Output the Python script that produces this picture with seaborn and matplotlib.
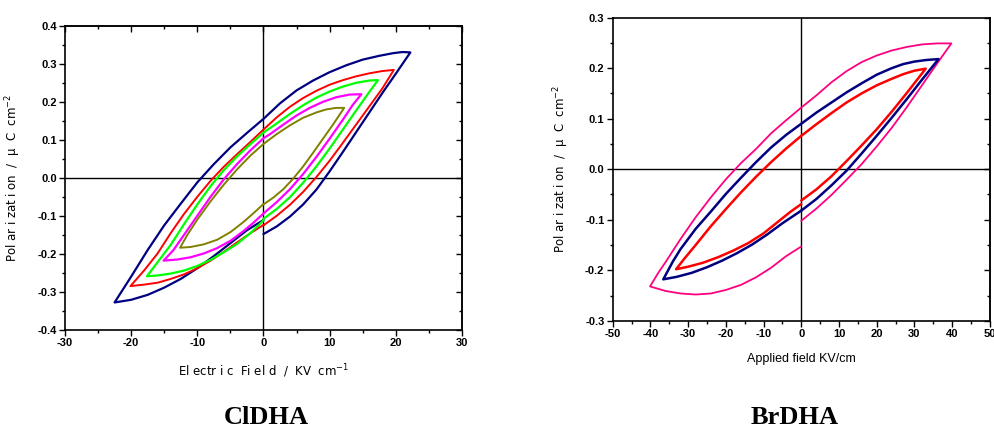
import matplotlib
matplotlib.use("Agg")
import matplotlib.pyplot as plt
from matplotlib.ticker import MultipleLocator
import seaborn as sns

# ---------------- data: ClDHA (left) ----------------
# each loop: start at E=0 -> rising branch -> +tip -> upper branch -> -tip -> lower branch -> E=0
cl_blue_E = [0, 2, 4, 6, 8, 10, 12, 14, 16, 18, 20, 22.2,
             21.0, 19.6, 17.5, 15.0, 12.5, 10.0, 7.5, 5.0, 2.5, 0, -2.5, -5.0, -7.5, -10.0,
             -12.5, -15.0, -17.5, -20.0, -22.5,
             -20.0, -17.5, -15.0, -12.5, -10.0, -7.5, -5.0, -2.5, 0]
cl_blue_P = [-0.148, -0.128, -0.102, -0.070, -0.031, 0.017, 0.068, 0.120, 0.172, 0.224, 0.274, 0.330,
             0.331, 0.328, 0.321, 0.311, 0.296, 0.278, 0.256, 0.230, 0.196, 0.155, 0.118, 0.080,
             0.036, -0.012, -0.068, -0.125, -0.190, -0.260, -0.328,
             -0.321, -0.308, -0.289, -0.266, -0.238, -0.206, -0.172, -0.138, -0.111]
cl_red_E = [0, 2, 4, 6, 8, 10, 12, 14, 16, 18, 19.7,
            18, 16, 14, 12, 10, 8, 6, 4, 2, 0, -2, -4, -6, -8, -10, -12, -14, -16, -18, -20.1,
            -18, -16, -14, -12, -10, -8, -6, -4, -2, 0]
cl_red_P = [-0.125, -0.100, -0.071, -0.037, 0.002, 0.045, 0.092, 0.140, 0.188, 0.236, 0.284,
            0.281, 0.275, 0.267, 0.257, 0.245, 0.229, 0.210, 0.187, 0.159, 0.127, 0.094, 0.062,
            0.029, -0.008, -0.050, -0.095, -0.145, -0.199, -0.243, -0.285,
            -0.281, -0.276, -0.266, -0.254, -0.238, -0.218, -0.195, -0.170, -0.146, -0.124]
cl_green_E = [0, 2, 4, 6, 8, 10, 12, 14, 16, 17.3,
              16, 14, 12, 10, 8, 6, 4, 2, 0, -2, -4, -6, -8, -10, -12, -14, -16, -17.6,
              -16, -14, -12, -10, -8, -6, -4, -2, 0]
cl_green_P = [-0.108, -0.082, -0.051, -0.013, 0.030, 0.077, 0.127, 0.177, 0.226, 0.257,
              0.256, 0.250, 0.240, 0.227, 0.211, 0.191, 0.168, 0.143, 0.119, 0.088, 0.056,
              0.020, -0.022, -0.070, -0.122, -0.176, -0.222, -0.259,
              -0.257, -0.252, -0.244, -0.232, -0.216, -0.196, -0.174, -0.146, -0.112]
cl_magenta_E = [0, 2, 4, 6, 8, 10, 12, 13.5, 14.8,
                13, 11, 9, 7, 5, 3, 1, 0, -2, -4, -6, -8, -10, -12, -13.6, -15.1,
                -13, -11, -9, -7, -5, -3, -1.5, 0]
cl_magenta_P = [-0.094, -0.064, -0.030, 0.010, 0.055, 0.103, 0.153, 0.192, 0.220,
                0.219, 0.212, 0.200, 0.184, 0.164, 0.140, 0.115, 0.104, 0.072, 0.036, -0.004,
                -0.050, -0.100, -0.150, -0.190, -0.218,
                -0.215, -0.209, -0.199, -0.185, -0.166, -0.140, -0.118, -0.094]
cl_olive_E = [0, 1.5, 3, 4.5, 6, 7.5, 9, 10.5, 12.2,
              11, 9.5, 8, 6, 4, 2, 0, -2, -4, -6, -8, -10, -11.5, -12.6,
              -11, -9, -7, -5, -3, -1.5, 0]
cl_olive_P = [-0.070, -0.052, -0.030, -0.002, 0.030, 0.066, 0.103, 0.140, 0.184,
              0.184, 0.180, 0.172, 0.158, 0.138, 0.115, 0.089, 0.058, 0.022, -0.018, -0.062,
              -0.110, -0.150, -0.184,
              -0.182, -0.175, -0.163, -0.143, -0.116, -0.093, -0.069]

# ---------------- data: BrDHA (right) ----------------
br_pink_E = [0, 4, 8, 12, 16, 20, 24, 28, 32, 36, 39.8,
             36, 32, 28, 24, 20, 16, 12, 8, 4, 0, -4, -8, -12, -16, -20, -24, -28, -32, -36,
             -38, -40.1,
             -36, -32, -28, -24, -20, -16, -12, -8, -4, 0]
br_pink_P = [-0.102, -0.078, -0.051, -0.021, 0.010, 0.045, 0.082, 0.123, 0.166, 0.209, 0.249,
             0.249, 0.247, 0.242, 0.235, 0.225, 0.212, 0.194, 0.172, 0.146, 0.122, 0.097,
             0.071, 0.040, 0.012, -0.020, -0.056, -0.095, -0.138, -0.184, -0.206, -0.232,
             -0.241, -0.246, -0.248, -0.246, -0.239, -0.229, -0.214, -0.195, -0.172, -0.153]
br_navy_E = [0, 4, 8, 12, 16, 20, 24, 28, 32, 36.4,
             33, 30, 27, 24, 20, 16, 12, 8, 4, 0, -4, -8, -12, -16, -20, -24, -28, -32, -34,
             -36.6,
             -33, -29, -25, -21, -17, -13, -9, -5, 0]
br_navy_P = [-0.082, -0.059, -0.032, -0.003, 0.031, 0.066, 0.102, 0.139, 0.177, 0.218,
             0.216, 0.213, 0.208, 0.200, 0.187, 0.170, 0.152, 0.132, 0.112, 0.090, 0.068,
             0.043, 0.014, -0.017, -0.049, -0.084, -0.118, -0.158, -0.182, -0.218,
             -0.213, -0.205, -0.194, -0.181, -0.166, -0.149, -0.129, -0.107, -0.082]
br_red_E = [0, 4, 8, 12, 16, 20, 24, 28, 33,
            30, 27, 24, 20, 16, 12, 8, 4, 0, -4, -8, -12, -16, -20, -24, -28, -31, -33.2,
            -30, -26, -22, -18, -14, -10, -6, -3, 0]
br_red_P = [-0.062, -0.040, -0.014, 0.016, 0.047, 0.079, 0.114, 0.151, 0.199,
            0.195, 0.188, 0.179, 0.166, 0.150, 0.132, 0.111, 0.089, 0.066, 0.041, 0.014,
            -0.015, -0.046, -0.079, -0.113, -0.150, -0.177, -0.198,
            -0.193, -0.185, -0.174, -0.161, -0.146, -0.127, -0.103, -0.085, -0.069]

left_xticks = [-30, -20, -10, 0, 10, 20, 30]
left_yticks = [-0.4, -0.3, -0.2, -0.1, 0.0, 0.1, 0.2, 0.3, 0.4]
right_xticks = [-50, -40, -30, -20, -10, 0, 10, 20, 30, 40, 50]
right_yticks = [-0.3, -0.2, -0.1, 0.0, 0.1, 0.2, 0.3]

sns.set_style("white")
plt.rcParams["font.family"] = ["Liberation Sans", "DejaVu Sans"]
plt.rcParams["mathtext.fontset"] = "custom"
plt.rcParams["mathtext.rm"] = "DejaVu Sans"
for k in ("text.color", "axes.labelcolor", "xtick.color", "ytick.color"):
    plt.rcParams[k] = "black"

fig = plt.figure(figsize=(9.95, 4.3), dpi=100)
axL = fig.add_axes([0.0653, 0.233, 0.399, 0.707])
axR = fig.add_axes([0.6158, 0.254, 0.379, 0.705])


def draw(ax, E, P, color, lw=1.4):
    sns.lineplot(x=E, y=P, sort=False, estimator=None, color=color, lw=lw, ax=ax)


draw(axL, cl_blue_E, cl_blue_P, "#000080", 1.6)
draw(axL, cl_red_E, cl_red_P, "#ff0000")
draw(axL, cl_green_E, cl_green_P, "#00ff00", 1.6)
draw(axL, cl_magenta_E, cl_magenta_P, "#ff00ff", 1.6)
draw(axL, cl_olive_E, cl_olive_P, "#808000")

draw(axR, br_pink_E, br_pink_P, "#ff0080", 1.3)
draw(axR, br_navy_E, br_navy_P, "#000080", 1.8)
draw(axR, br_red_E, br_red_P, "#ff0000", 1.8)


def style(ax, xt, yt, xminor, yminor, top_ticks):
    ax.axhline(0, color="black", lw=1.0, zorder=0)
    ax.axvline(0, color="black", lw=1.0, zorder=0)
    ax.set_xlim(xt[0], xt[-1])
    ax.set_ylim(yt[0], yt[-1])
    ax.set_xticks(xt)
    ax.set_yticks(yt)
    ax.set_xticklabels([f"{v:d}" for v in xt], fontweight="bold", fontsize=8)
    ax.set_yticklabels([f"{v:.1f}" for v in yt], fontweight="bold", fontsize=8)
    ax.xaxis.set_minor_locator(MultipleLocator(xminor))
    ax.yaxis.set_minor_locator(MultipleLocator(yminor))
    ax.tick_params(which="major", direction="out", length=4, width=1, pad=2,
                   left=True, bottom=True)
    ax.tick_params(which="minor", direction="out", length=2.5, width=1,
                   left=True, bottom=True)
    for s in ax.spines.values():
        s.set_color("black")
        s.set_linewidth(1.2)
    sy = ax.secondary_yaxis("right")
    sy.set_yticks(yt)
    sy.yaxis.set_minor_locator(MultipleLocator(yminor))
    sy.tick_params(which="major", direction="in", length=4, width=1, labelright=False)
    sy.tick_params(which="minor", direction="in", length=2.5, width=1)
    sy.spines["right"].set_linewidth(1.2)
    if top_ticks:
        sx = ax.secondary_xaxis("top")
        sx.set_xticks(xt)
        sx.xaxis.set_minor_locator(MultipleLocator(xminor))
        sx.tick_params(which="major", direction="in", length=4, width=1, labeltop=False)
        sx.tick_params(which="minor", direction="in", length=2.5, width=1)
        sx.spines["top"].set_linewidth(1.2)


style(axL, left_xticks, left_yticks, 5, 0.05, True)
style(axR, right_xticks, right_yticks, 5, 0.05, False)

ylab = "Pol ar i zat i on  /  μ  C  cm$^{-2}$"
axL.set_ylabel(ylab, fontfamily="DejaVu Sans", fontsize=8.5, labelpad=10)
axR.set_ylabel(ylab, fontfamily="DejaVu Sans", fontsize=8.5, labelpad=10)
axL.set_xlabel("El ectr i c  Fi el d  /  KV  cm$^{-1}$", fontfamily="DejaVu Sans",
               fontsize=8.5, labelpad=10)
axR.set_xlabel("Applied field KV/cm", fontsize=9, labelpad=10)

fig.text(266 / 995, 1 - 417 / 430, "ClDHA", fontfamily="Liberation Serif",
         fontweight="bold", fontsize=19, ha="center", va="center")
fig.text(795 / 995, 1 - 417 / 430, "BrDHA", fontfamily="Liberation Serif",
         fontweight="bold", fontsize=19, ha="center", va="center")

fig.savefig("out.png", dpi=100)
